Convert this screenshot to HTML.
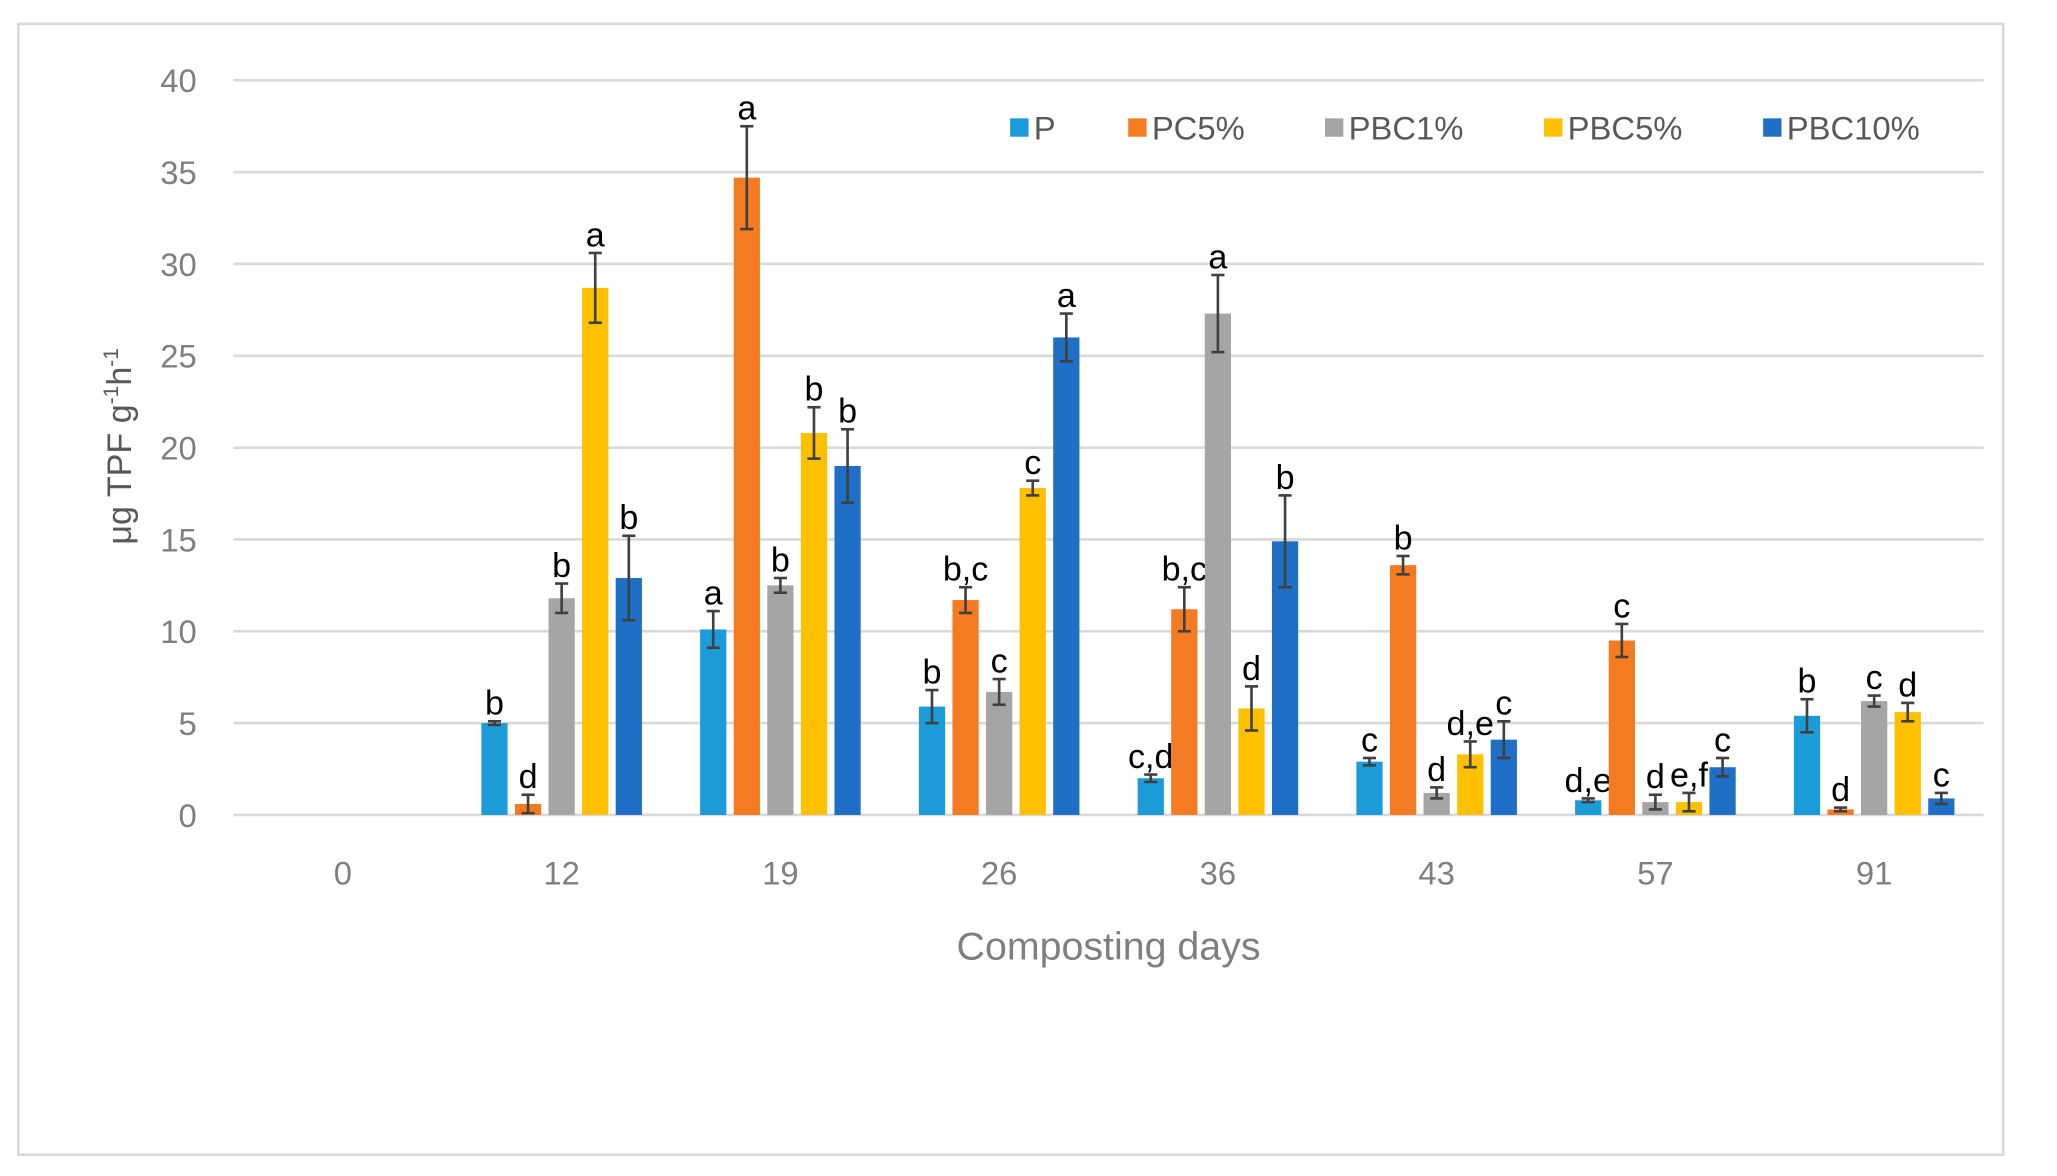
<!DOCTYPE html>
<html><head><meta charset="utf-8"><style>
html,body{margin:0;padding:0;background:#fff}
svg{display:block}
text{font-family:"Liberation Sans",sans-serif}
</style></head><body>
<svg id="chart" width="2057" height="1176" viewBox="0 0 1568 896" xmlns="http://www.w3.org/2000/svg">
<rect x="14" y="18" width="1513" height="862" fill="#fff" stroke="#d9d9d9" stroke-width="2"/>
<g id="grid"></g><g id="bars"></g>
<text x="845" y="731" font-size="30" fill="#7f7f7f" text-anchor="middle">Composting days</text>
<text transform="translate(100,340) rotate(-90)" font-size="26" fill="#595959" text-anchor="middle">μg TPF g<tspan dy="-10" font-size="16">-1</tspan><tspan dy="10">h</tspan><tspan dy="-10" font-size="16">-1</tspan></text>
<g id="legend"></g>
</svg>
<script>
const categories=["0","12","19","26","36","43","57","91"];
const seriesNames=["P","PC5%","PBC1%","PBC5%","PBC10%"];
const seriesColors=["#1b9bd7","#f57b22","#a5a5a5","#ffc000","#1f6fc6"];
const valsP=[0,5,10.1,5.9,2,2.9,0.8,5.4];
const valsPC5=[0,0.6,34.7,11.7,11.2,13.6,9.5,0.3];
const valsPBC1=[0,11.8,12.5,6.7,27.3,1.2,0.7,6.2];
const valsPBC5=[0,28.7,20.8,17.8,5.8,3.3,0.7,5.6];
const valsPBC10=[0,12.9,19,26,14.9,4.1,2.6,0.9];
const errP=[0,0.1,1,0.9,0.2,0.2,0.1,0.9];
const errPC5=[0,0.5,2.8,0.7,1.2,0.5,0.9,0.1];
const errPBC1=[0,0.8,0.4,0.7,2.1,0.3,0.4,0.3];
const errPBC5=[0,1.9,1.4,0.4,1.2,0.7,0.5,0.5];
const errPBC10=[0,2.3,2,1.3,2.5,1,0.5,0.3];
const lblP=["","b","a","b","c,d","c","d,e","b"];
const lblPC5=["","d","a","b,c","b,c","b","c","d"];
const lblPBC1=["","b","b","c","a","d","d","c"];
const lblPBC5=["","a","b","c","d","d,e","e,f","d"];
const lblPBC10=["","b","b","a","b","c","c","c"];
const yTicks=[0,5,10,15,20,25,30,35,40];
const values=[valsP,valsPC5,valsPBC1,valsPBC5,valsPBC10];
const errs=[errP,errPC5,errPBC1,errPBC5,errPBC10];
const lbls=[lblP,lblPC5,lblPBC1,lblPBC5,lblPBC10];
const NS="http://www.w3.org/2000/svg";
const x0=178,x1=1512,y0=621,y40=61;
const yS=v=>y0-(v/40)*(y0-y40);
const bandW=(x1-x0)/categories.length;
const xC=i=>x0+bandW*(i+0.5);
const step=25.6,bw=20;
function mk(t,a,p){const e=document.createElementNS(NS,t);for(const k in a)e.setAttribute(k,a[k]);p.appendChild(e);return e;}
const grid=document.getElementById('grid');
yTicks.forEach(t=>{
  const l=mk('line',{x1:x0,x2:x1,y1:yS(t),y2:yS(t),stroke:'#d9d9d9','stroke-width':2},grid);
  
  
  const tx=mk('text',{x:150,y:yS(t)+9,'font-size':25,fill:'#7f7f7f','text-anchor':'end'},grid);
  tx.textContent=t;
  
  
});
categories.forEach((c,i)=>{
  const tx=mk('text',{x:xC(i),y:674,'font-size':25,fill:'#7f7f7f','text-anchor':'middle'},grid);
  tx.textContent=c;
  
  
});
const bars=document.getElementById('bars');
values.forEach((vals,s)=>{
  vals.forEach((v,i)=>{
    if(v<=0)return;
    const cx=xC(i)+(s-2)*step;
    const r=mk('rect',{x:cx-bw/2,y:yS(v),width:bw,height:y0-yS(v),fill:seriesColors[s]},bars);
    
    
    const e=errs[s][i];
    const g=mk('g',{stroke:'#404040','stroke-width':2},bars);
    
    
    mk('line',{x1:cx,x2:cx,y1:yS(v+e),y2:yS(Math.max(0,v-e))},g);
    mk('line',{x1:cx-5,x2:cx+5,y1:yS(v+e),y2:yS(v+e)},g);
    mk('line',{x1:cx-5,x2:cx+5,y1:yS(Math.max(0,v-e)),y2:yS(Math.max(0,v-e))},g);
    const t=mk('text',{x:cx,y:yS(v+e)-5,'font-size':26,fill:'#000','text-anchor':'middle'},bars);
    t.textContent=lbls[s][i];
    
    
  });
});
const leg=document.getElementById('legend');
const legX=[770,860,1010,1177,1344];
seriesNames.forEach((n,s)=>{
  const g=mk('g',{},leg);
  
  
  mk('rect',{x:legX[s],y:90,width:14,height:14,fill:seriesColors[s]},g);
  const t=mk('text',{x:legX[s]+18,y:106,'font-size':25,fill:'#595959'},g);
  t.textContent=n;
});
</script>
</body></html>
